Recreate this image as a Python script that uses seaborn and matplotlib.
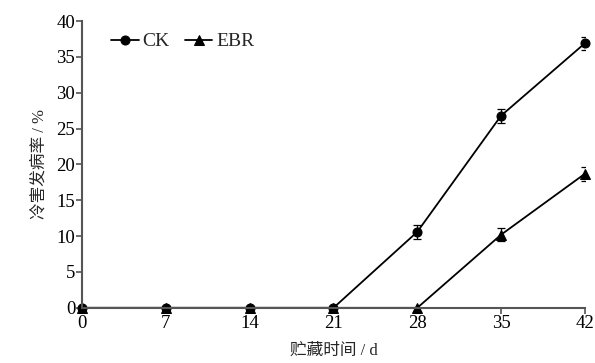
import numpy as np
import pandas as pd
import matplotlib.pyplot as plt
import seaborn as sns

# storage days and chilling injury incidence (%)
days = [0, 7, 14, 21, 28, 35, 42]
ck = [0, 0, 0, 0, 10.6, 26.8, 36.9]
ck_err = [0, 0, 0, 0, 1.0, 1.0, 0.9]
ebr = [0, 0, 0, 0, 0, 10.2, 18.7]
ebr_err = [0, 0, 0, 0, 0, 0.9, 1.0]

df = pd.DataFrame({
    'day': days * 2,
    'rate': ck + ebr,
    'group': ['CK'] * len(days) + ['EBR'] * len(days),
})

sns.set_style('ticks')
plt.rcParams['font.family'] = ['Liberation Serif', 'Noto Sans CJK SC']

fig = plt.figure(figsize=(5.95, 3.63), dpi=100)
ax = fig.add_axes([0.138, 0.152, 0.845, 0.79])

sns.lineplot(data=df, x='day', y='rate', style='group', markers={'CK': 'o', 'EBR': '^'},
             dashes=False, color='black', linewidth=1.3, markersize=6.5, ax=ax, clip_on=False,
             markeredgecolor='black')
ax.errorbar(days, ck, yerr=ck_err, fmt='none', ecolor='black', elinewidth=0.9, capsize=3, capthick=0.9)
ax.errorbar(days, ebr, yerr=ebr_err, fmt='none', ecolor='black', elinewidth=0.9, capsize=3, capthick=0.9)

ax.set_xlim(0, 42)
ax.set_ylim(0, 40)
ax.set_xticks(days)
ax.set_yticks(range(0, 41, 5))
ax.tick_params(direction='out', length=4, width=1.2, labelsize=13.5, pad=1, colors='#555555',
               labelcolor='black')
for s in ['left', 'bottom']:
    ax.spines[s].set_linewidth(1.5)
    ax.spines[s].set_color('#555555')
sns.despine(ax=ax)

ax.set_xlabel('贮藏时间 / d', fontsize=12, labelpad=8)
ax.set_ylabel('冷害发病率 / %', fontsize=12, labelpad=6)

ax.legend(loc='upper left', bbox_to_anchor=(0.035, 1.0), ncol=2, frameon=False, fontsize=14,
          handlelength=1.4, handletextpad=0.2, columnspacing=0.8, borderaxespad=0.2)

fig.savefig('out.png', dpi=100)
